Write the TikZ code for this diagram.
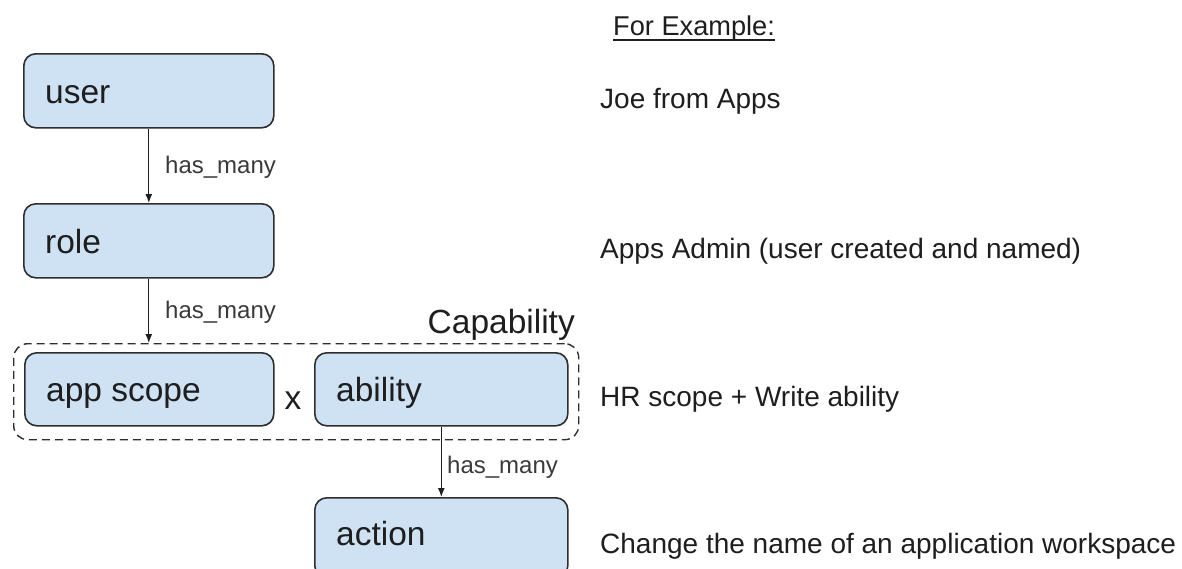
\documentclass[tikz,border=0pt]{standalone}
\usepackage{fontspec}
\setmainfont{Liberation Sans}
\usetikzlibrary{arrows.meta}
\definecolor{boxfill}{HTML}{CFE2F3}
\definecolor{boxline}{HTML}{2E2E2E}
\definecolor{txt}{HTML}{1E1E1E}
\definecolor{lbltxt}{HTML}{3A3A3A}
\begin{document}
\begin{tikzpicture}[x=1pt,y=-1pt,
  box/.style={draw=boxline, fill=boxfill, line width=1.6pt, rounded corners=12pt,
    minimum width=250pt, minimum height=74pt, inner sep=0pt, anchor=north west},
  dashbox/.style={draw=boxline, line width=1.4pt, dash pattern=on 8pt off 5pt,
    rounded corners=14pt, inner sep=0pt, anchor=north west},
  boxlbl/.style={inner sep=0pt, anchor=base west, text=txt, font=\fontsize{33.5}{40}\selectfont},
  rel/.style={inner sep=0pt, anchor=base west, text=lbltxt, font=\fontsize{24}{29}\selectfont},
  note/.style={inner sep=0pt, anchor=base west, text=txt, font=\fontsize{28}{34}\selectfont},
  arr/.style={draw=txt, line width=1.3pt, -{Latex[length=9pt,width=7pt]}}
]
\useasboundingbox (0,0) rectangle (1182,568);
\clip (0,0) rectangle (1182,568);
\fill[white] (0,0) rectangle (1182,568);

% capability group
\node[dashbox, minimum width=565pt, minimum height=96pt] (cap) at (13,343) {};

% boxes
\node[box] (user) at (23,53) {};
\node[box] (role) at (23,203) {};
\node[box, minimum width=249pt, minimum height=73pt] (scope) at (24,352) {};
\node[box, minimum width=253pt, minimum height=73pt] (ability) at (314,352) {};
\node[box, minimum width=253pt, minimum height=80pt] (action) at (314,497) {};

% box labels
\node[boxlbl] (userl) at (45,103) {user};
\node[boxlbl] (rolel) at (45,253) {role};
\node[boxlbl] (scopel) at (46,401) {app scope};
\node[boxlbl] (abilityl) at (336,401) {ability};
\node[boxlbl] (actionl) at (336,545) {action};
\node[boxlbl, anchor=base] (times) at (293,409) {x};
\node[boxlbl, anchor=base east] (capl) at (575,333) {Capability};

% connectors
\draw[arr] (user.south) -- (role.north);
\draw[arr] (role.south) -- (role.south |- cap.north);
\draw[arr] (ability.south) -- (action.north);

% relation labels
\node[rel] (r1) at (165,173) {has\_many};
\node[rel] (r2) at (165,318) {has\_many};
\node[rel] (r3) at (447,473) {has\_many};

% examples
\node[inner sep=0pt, anchor=base west, text=txt, font=\fontsize{27.2}{33}\selectfont] (fe) at (613,35) {For Example:};
\draw[txt, line width=1.5pt] ([yshift=-5pt]fe.base west) -- ([yshift=-5pt]fe.base east);
\node[note] (ex1) at (600,108) {Joe from Apps};
\node[note] (ex2) at (600,258) {Apps Admin (user created and named)};
\node[note] (ex3) at (600,406) {HR scope + Write ability};
\node[note] (ex4) at (600,553) {Change the name of an application workspace};
\end{tikzpicture}
\end{document}
